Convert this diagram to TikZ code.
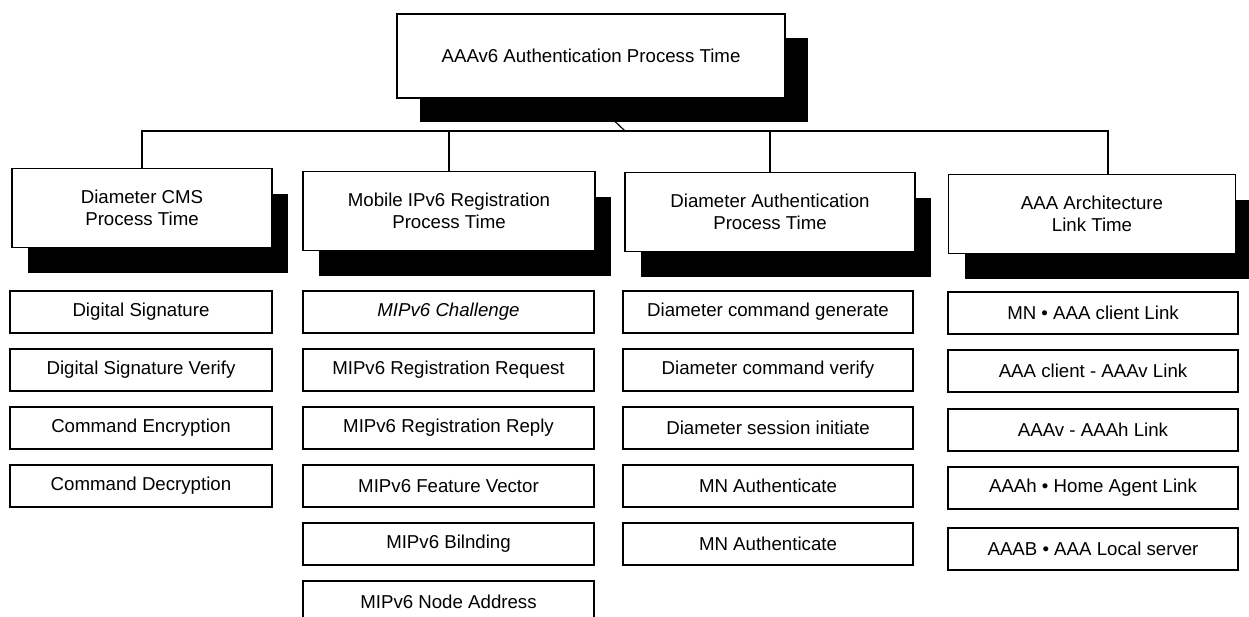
\documentclass[tikz,border=0pt]{standalone}
\usepackage{fontspec}
\setmainfont{Liberation Sans}
\usetikzlibrary{shadows,backgrounds}

\tikzset{
  boxline/.style={draw, line width=0.9pt, fill=white, inner sep=0pt, align=center,
    font=\fontsize{14}{16.5}\selectfont},
  topbox/.style={boxline, minimum width=291pt, minimum height=63pt,
    drop shadow={shadow xshift=17pt, shadow yshift=-18pt, opacity=1, fill=black}},
  headbox/.style={boxline, minimum height=59pt,
    drop shadow={shadow xshift=12pt, shadow yshift=-19pt, opacity=1, fill=black}},
  itembox/.style={boxline, minimum height=31.5pt},
  itemA/.style={itembox, minimum width=196.5pt},
  itemB/.style={itembox, minimum width=218.25pt},
  itemC/.style={itembox, minimum width=217.5pt},
  itemD/.style={itembox, minimum width=217.5pt},
  link/.style={line width=0.9pt}
}

\begin{document}
\begin{tikzpicture}[x=0.75pt,y=-0.75pt]
  \useasboundingbox (0,0) rectangle (1249,617);

  %Shape: Rectangle with shadow [top]
  \node (top) at (591,56) [topbox] {AAAv6 Authentication Process Time};

  %Shape: Rectangle with shadow [headers]
  \node (cms) at (142,208) [headbox, minimum width=195pt] {Diameter CMS\\Process Time};
  \node (mip) at (449,211) [headbox, minimum width=219pt] {Mobile IPv6 Registration\\Process Time};
  \node (dia) at (770,212) [headbox, minimum width=217.5pt] {Diameter Authentication\\Process Time};
  \node (arch) at (1092,214) [headbox, minimum width=215.25pt] {AAA Architecture\\Link Time};

  %Shape: Rectangle [column 1]
  \node (cms1) at (141,312) [itemA] {Digital Signature};
  \node (cms2) at (141,370) [itemA] {Digital Signature Verify};
  \node (cms3) at (141,428) [itemA] {Command Encryption};
  \node (cms4) at (141,486) [itemA] {Command Decryption};

  %Shape: Rectangle [column 2]
  \node (mip1) at (448.5,312) [itemB] {\itshape MIPv6 Challenge};
  \node (mip2) at (448.5,370) [itemB] {MIPv6 Registration Request};
  \node (mip3) at (448.5,428) [itemB] {MIPv6 Registration Reply};
  \node (mip4) at (448.5,486) [itemB] {MIPv6 Feature Vector};
  \node (mip5) at (448.5,544) [itemB] {MIPv6 Bilnding};
  \node (mip6) at (448.5,602) [itemB] {MIPv6 Node Address};

  %Shape: Rectangle [column 3]
  \node (dia1) at (768,312) [itemC] {Diameter command generate};
  \node (dia2) at (768,370) [itemC] {Diameter command verify};
  \node (dia3) at (768,428) [itemC] {Diameter session initiate};
  \node (dia4) at (768,486) [itemC] {MN Authenticate};
  \node (dia5) at (768,544) [itemC] {MN Authenticate};

  %Shape: Rectangle [column 4]
  \node (arch1) at (1093,313) [itemD] {MN • AAA client Link};
  \node (arch2) at (1093,371) [itemD] {AAA client - AAAv Link};
  \node (arch3) at (1093,430) [itemD] {AAAv - AAAh Link};
  \node (arch4) at (1093,488) [itemD] {AAAh • Home Agent Link};
  \node (arch5) at (1093,549) [itemD] {AAAB • AAA Local server};

  %Straight Lines [tree]
  \coordinate (join) at (625,131);
  \begin{scope}[on background layer]
    \draw [link] (top.south) -- (join);
    \draw [link] (cms.north) |- (join) -| ([xshift=12pt]arch.north);
    \draw [link] (mip.north) -- (mip.north |- join);
    \draw [link] (dia.north) -- (dia.north |- join);
  \end{scope}
\end{tikzpicture}
\end{document}
